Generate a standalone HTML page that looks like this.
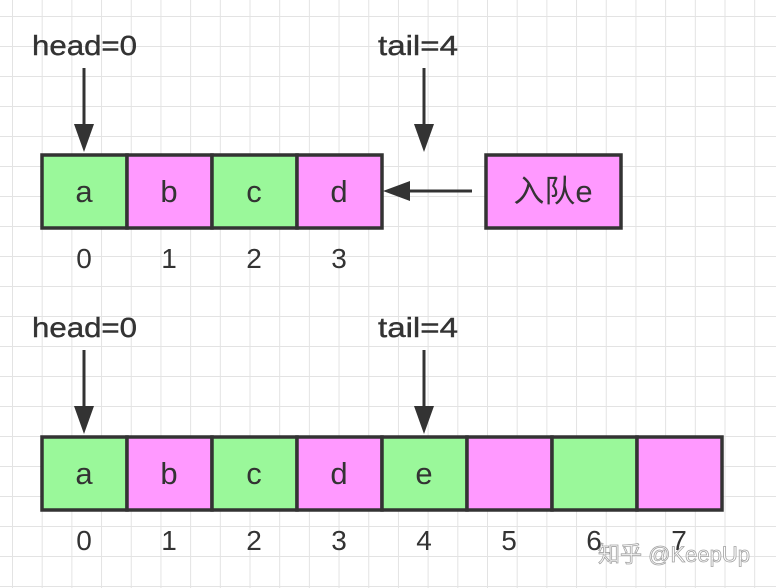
<!DOCTYPE html>
<html><head><meta charset="utf-8"><style>
body{margin:0;width:776px;height:588px;overflow:hidden;background:#fff;
background-image:linear-gradient(to right,#e3e3e3 1px,transparent 1px),linear-gradient(to bottom,#e3e3e3 1px,transparent 1px);
background-size:29.7px 30px;background-position:12px 16px;}
</style></head><body>
<svg width="776" height="588" xmlns="http://www.w3.org/2000/svg" style="position:absolute;left:0;top:0" font-family="Liberation Sans, Noto Sans CJK SC, sans-serif">
<g fill="#333" font-size="28" stroke="#333" stroke-width="0.4">
<text x="32" y="55" textLength="105" lengthAdjust="spacingAndGlyphs">head=0</text><text x="378" y="55" textLength="80" lengthAdjust="spacingAndGlyphs">tail=4</text>
<text x="32" y="337" textLength="105" lengthAdjust="spacingAndGlyphs">head=0</text><text x="378" y="337" textLength="80" lengthAdjust="spacingAndGlyphs">tail=4</text>
</g>
<g stroke="#333" stroke-width="3">
<line x1="84" y1="68" x2="84" y2="130"/><path d="M74,124 L94,124 L84,152z" fill="#333" stroke="none"/>
<line x1="424" y1="68" x2="424" y2="130"/><path d="M414,124 L434,124 L424,152z" fill="#333" stroke="none"/>
<line x1="84" y1="350" x2="84" y2="412"/><path d="M74,406 L94,406 L84,434z" fill="#333" stroke="none"/>
<line x1="424" y1="350" x2="424" y2="412"/><path d="M414,406 L434,406 L424,434z" fill="#333" stroke="none"/>
<line x1="472" y1="191" x2="405" y2="191"/><path d="M410,181 L410,201 L383,191z" fill="#333" stroke="none"/>
</g>
<g stroke="#333" stroke-width="3.5">
<rect x="42" y="155" width="85" height="73" fill="#9af89a"/>
<rect x="127" y="155" width="85" height="73" fill="#ff99ff"/>
<rect x="212" y="155" width="85" height="73" fill="#9af89a"/>
<rect x="297" y="155" width="85" height="73" fill="#ff99ff"/>
<rect x="486" y="155" width="135" height="73" fill="#ff99ff"/>
<rect x="42" y="437" width="85" height="73" fill="#9af89a"/>
<rect x="127" y="437" width="85" height="73" fill="#ff99ff"/>
<rect x="212" y="437" width="85" height="73" fill="#9af89a"/>
<rect x="297" y="437" width="85" height="73" fill="#ff99ff"/>
<rect x="382" y="437" width="85" height="73" fill="#9af89a"/>
<rect x="467" y="437" width="85" height="73" fill="#ff99ff"/>
<rect x="552" y="437" width="85" height="73" fill="#9af89a"/>
<rect x="637" y="437" width="85" height="73" fill="#ff99ff"/>
</g>
<g fill="#333" font-size="31" text-anchor="middle">
<text x="84" y="202">a</text><text x="169" y="202">b</text><text x="254" y="202">c</text><text x="339" y="202">d</text>
<text x="553" y="202">入队e</text>
<text x="84" y="484">a</text><text x="169" y="484">b</text><text x="254" y="484">c</text><text x="339" y="484">d</text><text x="424" y="484">e</text>
</g>
<g fill="#333" font-size="28" text-anchor="middle">
<text x="84" y="268">0</text><text x="169" y="268">1</text><text x="254" y="268">2</text><text x="339" y="268">3</text>
<text x="84" y="550">0</text><text x="169" y="550">1</text><text x="254" y="550">2</text><text x="339" y="550">3</text>
<text x="424" y="550">4</text><text x="509" y="550">5</text><text x="594" y="550">6</text><text x="679" y="550">7</text>
</g>
<text x="598" y="562" font-size="22" fill="#fff" stroke="#999" stroke-width="0.8" opacity="0.9">知乎 @KeepUp</text>
</svg>
</body></html>
